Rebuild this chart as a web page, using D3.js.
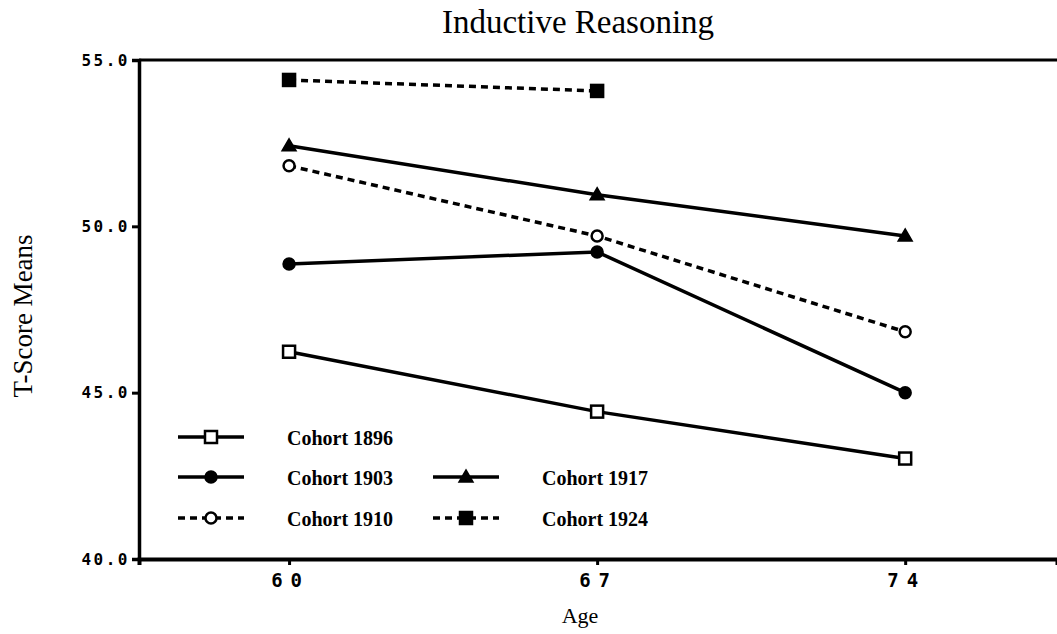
<!DOCTYPE html>
<html>
<head>
<meta charset="utf-8">
<script src="https://cdn.jsdelivr.net/npm/d3@7"></script>
<style>
  body { margin: 0; background: #fff; }
  svg { display: block; }
</style>
</head>
<body>
<div id="chart"></div>
<script>
// ages on the x axis
let ages = [60, 67, 74];
let yTicks = [40, 45, 50, 55];

// cohort series (T-score means)
let cohorts = ["Cohort 1896", "Cohort 1903", "Cohort 1910", "Cohort 1917", "Cohort 1924"];
let c1896 = [46.23, 44.43, 43.02];
let c1903 = [48.87, 49.23, 45.0];
let c1910 = [51.82, 49.71, 46.83];
let c1917 = [52.42, 50.95, 49.71];
let c1924 = [54.4, 54.07];

let styles = [
    {marker: "square", fill: "#fff", dash: null},
    {marker: "circle", fill: "#000", dash: null},
    {marker: "circle", fill: "#fff", dash: "7,5"},
    {marker: "triangle", fill: "#000", dash: null},
    {marker: "square", fill: "#000", dash: "7,5"}
];

let series = [c1896, c1903, c1910, c1917, c1924].map((vals, i) => ({
    name: cohorts[i],
    style: styles[i],
    values: vals.map((v, j) => ({age: ages[j], value: v}))
}));

let width = 1057, height = 634;
let margin = {top: 60, right: 0, bottom: 75, left: 139};

let svg = d3.select("#chart").append("svg")
    .attr("width", width)
    .attr("height", height);

let x = d3.scaleLinear()
    .domain([56.59, 77.45])
    .range([margin.left, width - margin.right]);

let y = d3.scaleLinear()
    .domain([40, 55])
    .range([height - margin.bottom, margin.top]);

// title + axis titles
svg.append("text")
    .attr("x", 578).attr("y", 33)
    .attr("text-anchor", "middle")
    .attr("font-family", "Liberation Serif, serif")
    .attr("font-size", "33px")
    .text("Inductive Reasoning");

svg.append("text")
    .attr("x", 580).attr("y", 623)
    .attr("text-anchor", "middle")
    .attr("font-family", "Liberation Serif, serif")
    .attr("font-size", "22px")
    .text("Age");

svg.append("text")
    .attr("transform", "translate(32,316) rotate(-90)")
    .attr("text-anchor", "middle")
    .attr("font-family", "Liberation Serif, serif")
    .attr("font-size", "27px")
    .text("T-Score Means");

// frame: top line
svg.append("line")
    .attr("x1", margin.left).attr("x2", width)
    .attr("y1", y(55)).attr("y2", y(55))
    .attr("stroke", "#000").attr("stroke-width", 3);

// axes
let yAxis = d3.axisLeft(y)
    .tickValues(yTicks)
    .tickFormat(d3.format(".1f"))
    .tickSize(7)
    .tickPadding(2);

let gy = svg.append("g")
    .attr("transform", `translate(${margin.left},0)`)
    .call(yAxis);

let xAxis = d3.axisBottom(x)
    .tickValues(ages)
    .tickSize(6)
    .tickPadding(9);

let gx = svg.append("g")
    .attr("transform", `translate(0,${height - margin.bottom})`)
    .call(xAxis);

gy.select(".domain").attr("stroke-width", 3.5);
gx.select(".domain").attr("stroke-width", 4);
[gx, gy].forEach(g => {
    g.selectAll(".tick line").attr("stroke-width", 3);
    g.selectAll(".tick text")
        .attr("font-family", "DejaVu Sans Mono, monospace")
        .attr("font-weight", "bold")
        .attr("fill", "#000");
});
gy.selectAll(".tick text").attr("font-size", "16px").attr("letter-spacing", "2.5px");
gx.selectAll(".tick text").attr("font-size", "19px").attr("letter-spacing", "8px").attr("dx", "1px");

// markers
function drawMarker(g, type, cx, cy, fill) {
    if (type === "square") {
        g.append("rect")
            .attr("x", cx - 6).attr("y", cy - 6)
            .attr("width", 12).attr("height", 12)
            .attr("fill", fill).attr("stroke", "#000").attr("stroke-width", 2.5);
    } else if (type === "circle") {
        g.append("circle")
            .attr("cx", cx).attr("cy", cy).attr("r", 5.5)
            .attr("fill", fill).attr("stroke", "#000").attr("stroke-width", 2.5);
    } else {
        g.append("path")
            .attr("d", `M${cx},${cy - 7}L${cx + 7},${cy + 5}L${cx - 7},${cy + 5}Z`)
            .attr("fill", fill).attr("stroke", "#000").attr("stroke-width", 1.5);
    }
}

let line = d3.line()
    .x(d => x(d.age))
    .y(d => y(d.value));

series.forEach(s => {
    let g = svg.append("g");
    g.append("path")
        .datum(s.values)
        .attr("d", line)
        .attr("fill", "none")
        .attr("stroke", "#000")
        .attr("stroke-width", 3.5)
        .attr("stroke-dasharray", s.style.dash);
    s.values.forEach(d => drawMarker(g, s.style.marker, x(d.age), y(d.value), s.style.fill));
});

// legend
let legendPos = [
    {x: 178, y: 437}, {x: 178, y: 477}, {x: 178, y: 518},
    {x: 433, y: 477}, {x: 433, y: 518}
];

series.forEach((s, i) => {
    let p = legendPos[i];
    let g = svg.append("g").attr("class", "legend");
    g.append("line")
        .attr("x1", p.x).attr("x2", p.x + 66)
        .attr("y1", p.y).attr("y2", p.y)
        .attr("stroke", "#000").attr("stroke-width", 3.5)
        .attr("stroke-dasharray", s.style.dash);
    drawMarker(g, s.style.marker, p.x + 33, p.y, s.style.fill);
    g.append("text")
        .attr("x", p.x + 109).attr("y", p.y + 8)
        .attr("font-family", "Liberation Serif, serif")
        .attr("font-weight", "bold")
        .attr("font-size", "20px")
        .text(s.name);
});
</script>
</body>
</html>
